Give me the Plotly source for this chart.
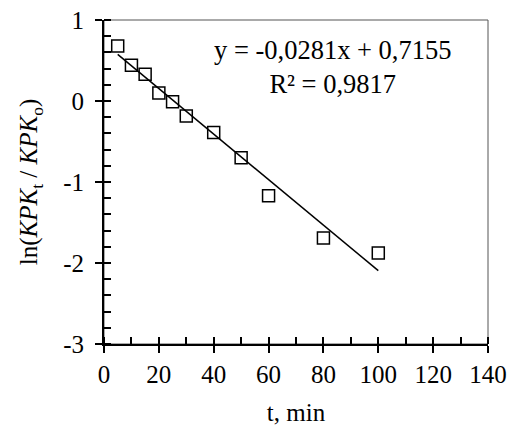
import plotly.graph_objects as go

t_min = [5, 10, 15, 20, 25, 30, 40, 50, 60, 80, 100]
ln_ratio = [0.68, 0.44, 0.33, 0.10, -0.01, -0.185, -0.39, -0.70, -1.17, -1.69, -1.875]
slope = -0.0281
intercept = 0.7155
eq_text = "y = -0,0281x + 0,7155"
r2_text = "R² = 0,9817"
x_ticks = [0, 20, 40, 60, 80, 100, 120, 140]
y_ticks = [1, 0, -1, -2, -3]

fit_x = [min(t_min), max(t_min)]
fit_y = [slope * v + intercept for v in fit_x]

FONT = "Liberation Serif, Times New Roman, serif"

fig = go.Figure()
fig.add_trace(go.Scatter(x=fit_x, y=fit_y, mode="lines",
                         line=dict(color="black", width=1.5), showlegend=False,
                         hoverinfo="skip"))
fig.add_trace(go.Scatter(x=t_min, y=ln_ratio, mode="markers",
                         marker=dict(symbol="square-open", size=12,
                                     color="black", line=dict(width=1.5, color="black")),
                         showlegend=False))
# invisible trace on overlay axes (for inner portion of major ticks)
fig.add_trace(go.Scatter(x=[0], y=[0], xaxis="x2", yaxis="y2", mode="markers",
                         marker=dict(opacity=0), showlegend=False, hoverinfo="skip"))

axis_common = dict(showgrid=False, zeroline=False, showline=True, automargin=False,
                   linecolor="black", linewidth=2, ticks="outside",
                   tickcolor="black", tickwidth=2, ticklen=7,
                   tickfont=dict(family=FONT, size=25, color="black"))

fig.update_layout(
    width=512, height=429,
    margin=dict(l=104, r=24, t=20, b=85, autoexpand=False),
    paper_bgcolor="white", plot_bgcolor="white",
    xaxis=dict(range=[0, 140], tickvals=x_ticks, ticktext=[str(v) for v in x_ticks],
               minor=dict(dtick=10, tick0=0, ticks="inside", ticklen=7,
                          tickcolor="black", tickwidth=2),
               title=dict(text="t, min", font=dict(family=FONT, size=25, color="black"),
                          standoff=16),
               **axis_common),
    yaxis=dict(range=[-3, 1], tickvals=y_ticks, ticktext=[str(v) for v in y_ticks],
               ticklabelstandoff=6,
               minor=dict(dtick=0.2, tick0=0, ticks="inside", ticklen=7,
                          tickcolor="black", tickwidth=2),
               title=dict(text="ln(<i>KPK</i><sub>t</sub> / <i>KPK</i><sub>o</sub>)",
                          font=dict(family=FONT, size=25, color="black"), standoff=18),
               **axis_common),
    xaxis2=dict(range=[0, 140], overlaying="x", tickvals=x_ticks, showticklabels=False,
                ticks="inside", ticklen=7, tickwidth=2, tickcolor="black", automargin=False,
                showgrid=False, zeroline=False, showline=False),
    yaxis2=dict(range=[-3, 1], overlaying="y", tickvals=y_ticks, showticklabels=False,
                ticks="inside", ticklen=7, tickwidth=2, tickcolor="black", automargin=False,
                showgrid=False, zeroline=False, showline=False),
)

fig.add_shape(type="rect", xref="x domain", yref="y domain", x0=0, x1=1, y0=0, y1=1,
              line=dict(color="#555555", width=1), layer="below")

fig.add_annotation(xref="paper", yref="paper", x=0.91, y=0.855, xanchor="right",
                   yanchor="middle", showarrow=False, align="center",
                   text=eq_text + "<br>" + r2_text,
                   font=dict(family=FONT, size=26.5, color="black"))

fig.write_html("out.html", config={"displayModeBar": False},
               post_script="document.body.style.margin='0';document.body.style.overflow='hidden';")
